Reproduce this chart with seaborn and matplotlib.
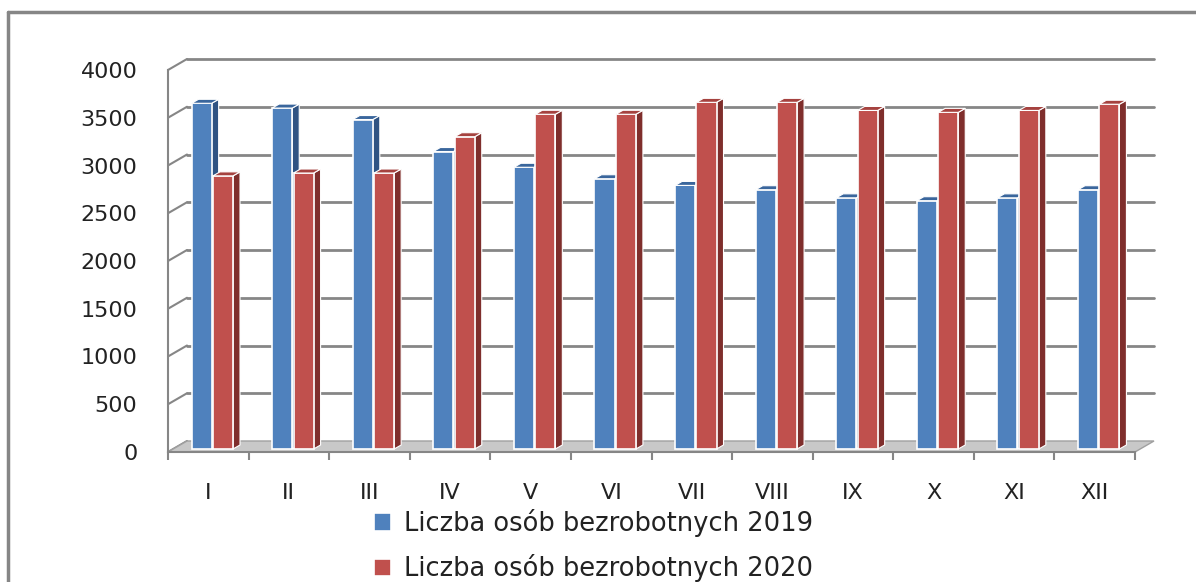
import numpy as np
import pandas as pd
import seaborn as sns
import matplotlib.pyplot as plt
from matplotlib.patches import Polygon
from matplotlib.lines import Line2D

# dane
miesiace = ['I', 'II', 'III', 'IV', 'V', 'VI', 'VII', 'VIII', 'IX', 'X', 'XI', 'XII']
bezrobotni_2019 = [3620, 3570, 3450, 3115, 2950, 2830, 2760, 2715, 2630, 2600, 2630, 2715]
bezrobotni_2020 = [2860, 2890, 2890, 3270, 3505, 3505, 3630, 3630, 3545, 3525, 3545, 3610]
serie = ['Liczba osób bezrobotnych 2019', 'Liczba osób bezrobotnych 2020']

df = pd.DataFrame({
    'miesiac': miesiace * 2,
    'liczba': bezrobotni_2019 + bezrobotni_2020,
    'seria': [serie[0]] * 12 + [serie[1]] * 12,
})

kolory = ['#4F81BD', '#C0504D']
boki = ['#2F5383', '#7F2E2C']
gory = ['#3A669C', '#A5423F']
szary = '#868686'

sns.set_theme(style='white')
plt.rcParams['font.family'] = ['DejaVu Sans']

W, H = 1196, 582
fig = plt.figure(figsize=(W / 100, H / 100), dpi=100)
ax = fig.add_axes([168 / W, (H - 452) / H, 967 / W, 382 / H])

sns.barplot(data=df, x='miesiac', y='liczba', hue='seria', palette=kolory, saturation=1,
            width=0.53, gap=0.06, edgecolor='white', linewidth=1.2, ax=ax)
ax.set_xlim(-0.5, 11.5)
ax.set_ylim(0, 4000)

# przeliczenie pikseli na jednostki danych (efekt 3D)
px_x = 12 / 967
px_y = 4000 / 382
ddx, ddy = 7 * px_x, 4 * px_y      # glebokosc slupka
gdx, gdy = 19 * px_x, 11 * px_y    # przesuniecie tylnej sciany
przes = 4 * px_x                   # perspektywa - slupki lekko w prawo
baza = 3 * px_y                    # slupki stoja na podlodze

for cont, bok, gora, z in zip(ax.containers, boki, gory, [3, 5]):
    for bar in cont:
        bar.set_x(bar.get_x() + przes)
        bar.set_y(baza)
        x0 = bar.get_x()
        x1 = x0 + bar.get_width()
        h = bar.get_height() + baza
        bar.set_zorder(z)
        ax.add_patch(Polygon([(x1, baza), (x1 + ddx, baza + ddy), (x1 + ddx, h + ddy), (x1, h)],
                             closed=True, fc=bok, ec='white', lw=0.8, zorder=z - 0.5))
        ax.add_patch(Polygon([(x0, h), (x1, h), (x1 + ddx, h + ddy), (x0 + ddx, h + ddy)],
                             closed=True, fc=gora, ec='white', lw=0.8, zorder=z + 0.5))

# tylna sciana - linie siatki
for v in range(0, 4001, 500):
    if v > 0:
        ax.plot([-0.5 + gdx, 11.5 + gdx], [v + gdy, v + gdy], color=szary, lw=2,
                clip_on=False, zorder=1)
    ax.plot([-0.5, -0.5 + gdx], [v, v + gdy], color=szary, lw=1.5, clip_on=False, zorder=1)

# podloga
ax.add_patch(Polygon([(-0.5, 0), (11.5, 0), (11.5 + gdx, gdy), (-0.5 + gdx, gdy)],
                     closed=True, fc='#c8c8c8', ec='#a0a0a0', lw=1, zorder=2, clip_on=False))

ax.set_yticks(range(0, 4001, 500))
ax.tick_params(axis='y', length=8, width=1.5, color=szary, pad=14, labelsize=16,
               labelcolor='#222222')
ax.set_xticks(range(12))
ax.set_xticklabels(miesiace)
ax.tick_params(axis='x', which='major', length=0, pad=22, labelsize=16, labelcolor='#222222')
ax.set_xticks(np.arange(-0.5, 12, 1), minor=True)
ax.tick_params(axis='x', which='minor', length=6, width=1.5, color=szary, bottom=True)

for s in ['top', 'right']:
    ax.spines[s].set_visible(False)
for s in ['left', 'bottom']:
    ax.spines[s].set_color(szary)
    ax.spines[s].set_linewidth(1.5)
    ax.spines[s].set_zorder(6)
ax.set_xlabel('')
ax.set_ylabel('')

handles, labels = ax.get_legend_handles_labels()
ax.get_legend().remove()
fig.legend(handles, labels, loc='upper left', bbox_to_anchor=(374 / W, 1 - 509 / H),
           frameon=False, fontsize=18.5, handlelength=0.65, handleheight=0.65,
           handletextpad=0.5, labelspacing=0.68, borderpad=0, borderaxespad=0,
           labelcolor='#222222')

# ramka obrazka
fig.add_artist(Line2D([8 / W, 8 / W], [0, 1 - 12 / H], color=szary, lw=2.5,
                      transform=fig.transFigure))
fig.add_artist(Line2D([8 / W, 1], [1 - 12 / H, 1 - 12 / H], color=szary, lw=2.5,
                      transform=fig.transFigure))

fig.savefig('out.png', dpi=100)
